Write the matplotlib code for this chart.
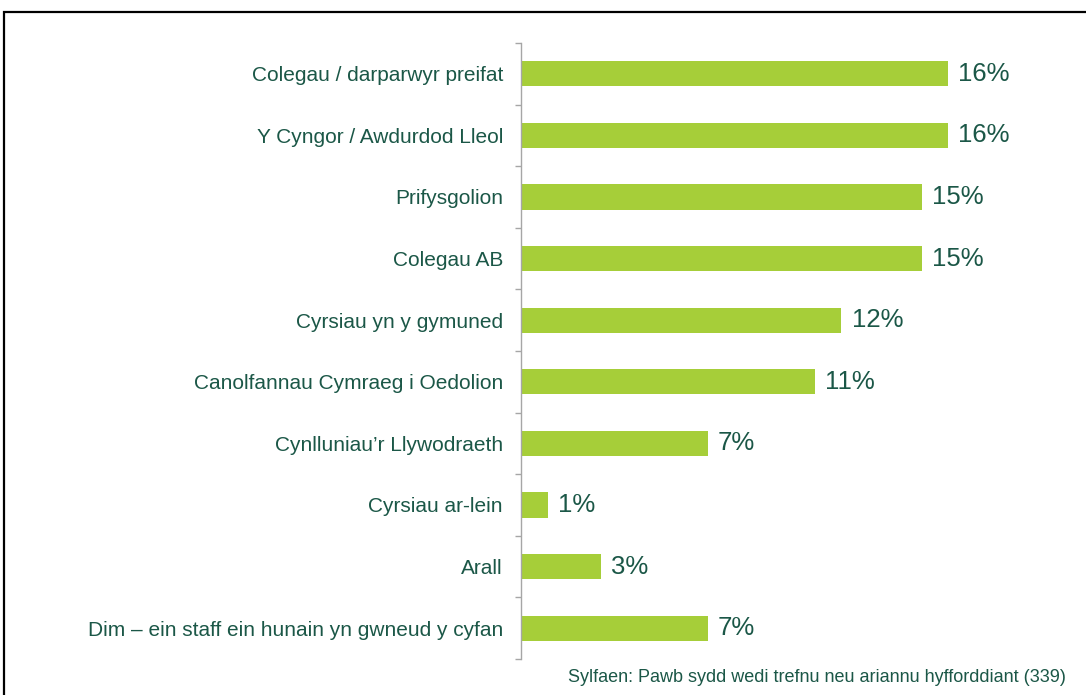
import matplotlib.pyplot as plt
import matplotlib.patches as patches
import numpy as np

# ---------------------- Data ----------------------
categories = [
    "Colegau / darparwyr preifat",
    "Y Cyngor / Awdurdod Lleol",
    "Prifysgolion",
    "Colegau AB",
    "Cyrsiau yn y gymuned",
    "Canolfannau Cymraeg i Oedolion",
    "Cynlluniau\u2019r Llywodraeth",
    "Cyrsiau ar-lein",
    "Arall",
    "Dim \u2013 ein staff ein hunain yn gwneud y cyfan",
]
values = [16, 16, 15, 15, 12, 11, 7, 1, 3, 7]
source_note = "Sylfaen: Pawb sydd wedi trefnu neu ariannu hyfforddiant (339)"

# ---------------------- Style ----------------------
BAR_COLOR = "#a6ce39"
TEXT_COLOR = "#1b5747"
AXIS_COLOR = "#a6a6a6"

plt.rcParams['font.family'] = ['Liberation Sans', 'DejaVu Sans']

fig = plt.figure(figsize=(10.86, 6.95), dpi=100)
W, H = 1086, 695
# axes: left spine at x=521, y from 43 to 659 (pixels)
ax = fig.add_axes([521 / W, 1 - 659 / H, (1055 - 521) / W, (659 - 43) / H])

y = np.arange(len(categories))
ax.barh(y, values, height=0.41, color=BAR_COLOR)

ax.set_ylim(len(categories) - 0.5, -0.5)
ax.set_xlim(0, 20)

for yi, v in zip(y, values):
    ax.text(v + 0.38, yi, f"{v}%", va='center', ha='left',
            fontsize=18.5, color=TEXT_COLOR)

ax.set_yticks(y)
ax.set_yticklabels(categories, fontsize=15, color=TEXT_COLOR)
ax.tick_params(axis='y', which='major', length=0, pad=13)
ax.set_yticks(np.arange(len(categories) + 1) - 0.5, minor=True)
ax.tick_params(axis='y', which='minor', length=4, color=AXIS_COLOR, width=1)

ax.set_xticks([])
for s in ['top', 'right', 'bottom']:
    ax.spines[s].set_visible(False)
ax.spines['left'].set_color(AXIS_COLOR)
ax.spines['left'].set_linewidth(1)

fig.text(1066 / W, 1 - 678 / H, source_note, ha='right', va='center',
         fontsize=13, color=TEXT_COLOR)

# outer frame (runs off the right and bottom edges)
frame = patches.Rectangle((4 / W, -0.1), 1.2, 0.1 + (1 - 12 / H),
                          transform=fig.transFigure, fill=False,
                          edgecolor='black', linewidth=1.6)
fig.patches.append(frame)

fig.savefig("out.png", dpi=100)
